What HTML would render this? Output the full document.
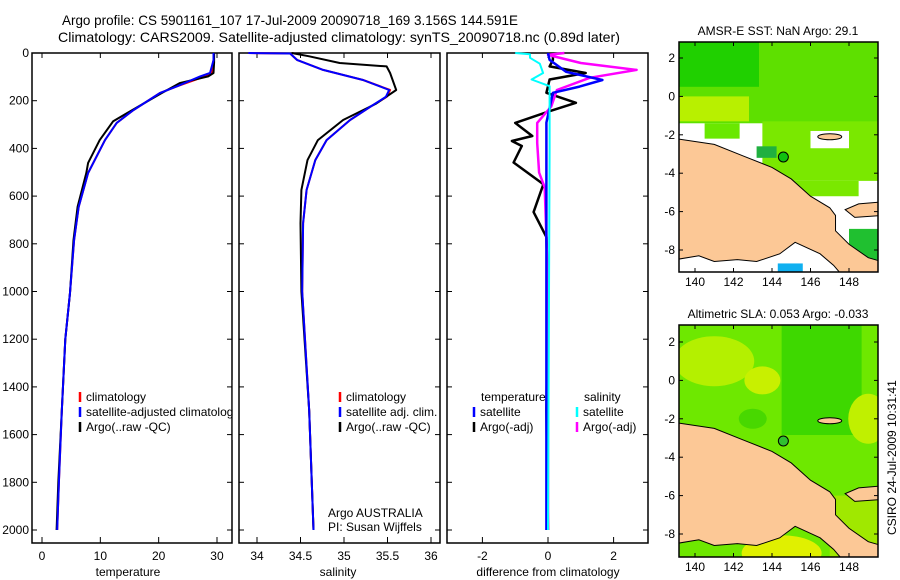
<!DOCTYPE html>
<html><head><meta charset="utf-8"><style>
body{margin:0;background:#fff}
svg{display:block;font-family:"Liberation Sans",sans-serif}
text{font-size:12px;fill:#000}
</style></head><body>
<svg id="c" width="900" height="580" viewBox="0 0 900 580">
<text x="62" y="25" style="font-size:14px" textLength="456" lengthAdjust="spacingAndGlyphs">Argo profile: CS 5901161_107 17-Jul-2009 20090718_169 3.156S 144.591E</text>
<text x="58" y="42" style="font-size:14px" textLength="562" lengthAdjust="spacingAndGlyphs">Climatology: CARS2009. Satellite-adjusted climatology: synTS_20090718.nc (0.89d later)</text>
<g id="g"></g>
</svg>
<script>
// ---- data ----
const tDepthClim=[0,30,84,98,140,168,239,293,365,503,645,784,1006,1200,1500,1800,2000];
const tClim=[29.4,29.4,29.1,27.9,23.1,20.2,15.7,12.8,10.8,7.9,6.3,5.5,4.8,4.0,3.4,2.9,2.6];
const tSat=[29.4,29.4,28.8,27.1,23.1,20.2,15.7,12.8,10.8,7.9,6.3,5.5,4.8,4.0,3.4,2.9,2.6];
const tDepthArgo=[0,40,84,98,126,168,239,286,365,461,503,645,784,1006,1200,1500,1800,2000];
const tArgo=[29.5,29.5,29.4,28.5,23.6,20.5,15.5,12.2,9.9,7.9,7.6,6.1,5.4,4.8,4.0,3.4,2.8,2.5];
const sDepthClim=[0,2,29,71,113,155,184,226,281,365,449,574,713,1000,1500,2000];
const sClim=[33.9,34.38,34.46,34.76,35.22,35.53,35.49,35.3,35.07,34.8,34.67,34.57,34.53,34.52,34.6,34.65];
const sSat=[33.9,34.38,34.46,34.76,35.22,35.52,35.48,35.3,35.07,34.8,34.67,34.57,34.53,34.52,34.6,34.65];
const sDepthArgo=[0,14,42,56,84,155,212,281,365,449,574,713,1000,1500,2000];
const sArgo=[34.4,34.6,34.95,35.49,35.53,35.6,35.37,34.99,34.7,34.58,34.51,34.5,34.51,34.6,34.65];
const dDepthTS=[0,29,79,113,141,167,292,2000];
const dTempSat=[0.0,0.05,0.55,1.66,0.96,0.15,-0.05,-0.05];
const dDepthTA=[0,29,56,84,111,167,209,244,293,348,369,390,459,550,667,772,1000,1500,2000];
const dTempArgo=[0.15,0.15,0.05,1.15,0.05,-0.05,0.85,0.05,-1.0,-0.48,-1.1,-0.8,-1.05,-0.14,-0.44,-0.05,0.0,-0.05,0.0];
const dDepthSS=[0,5,20,45,84,111,139,400,1000,2000];
const dSalSat=[-1.0,-0.55,-0.55,-0.25,-0.15,-0.5,0.05,0.05,0.03,0.0];
const dDepthSA=[0,8,42,71,104,155,224,293,377,501,564,773,1000,2000];
const dSalArgo=[0.5,0.0,1.0,2.7,1.27,0.27,0.1,-0.33,-0.33,-0.27,-0.1,-0.05,0.0,0.0];
const depthTicks=[0,200,400,600,800,1000,1200,1400,1600,1800,2000];
const tempTicks=[0,10,20,30];
const salTicks=[34,34.5,35,35.5,36];
const salLabels=["34","34.5","35","35.5","36"];
const diffTicks=[-2,0,2];
const lonTicks=[140,142,144,146,148];
const latTicks=[2,0,-2,-4,-6,-8];

const NS='http://www.w3.org/2000/svg';
const G=document.getElementById('g');
function el(tag,attrs,parent,txt){const e=document.createElementNS(NS,tag);for(const k in attrs)e.setAttribute(k,attrs[k]);if(txt!==undefined)e.textContent=txt;(parent||G).appendChild(e);return e;}
const yD=d=>53+d*0.2385;
const xT=v=>42+v*5.833;
const xS=v=>257+(v-34)*87;
const xDf=v=>548+v*32.8;

function box(x0,x1,name){
  const r=el('rect',{x:x0,y:53,width:x1-x0,height:490,fill:'none',stroke:'#000','stroke-width':1.5});
  
  
}
function line(xs,ds,fx,color,name,w){
  const p=xs.map((v,i)=>fx(v).toFixed(1)+','+yD(ds[i]).toFixed(1)).join(' ');
  const l=el('polyline',{points:p,fill:'none',stroke:color,'stroke-width':w||2,'stroke-linejoin':'round'});
  
  
}
function xticks(ticks,labels,fx,title,tx,name){
  ticks.forEach((t,i)=>{
    const x=fx(t);
    el('line',{x1:x,x2:x,y1:543,y2:537,stroke:'#000'});
    el('line',{x1:x,x2:x,y1:53,y2:58,stroke:'#000'});
    const lb=el('text',{x:x,y:560,'text-anchor':'middle'},G,labels[i]);
    
    
  });
  const tt=el('text',{x:tx,y:576,'text-anchor':'middle'},G,title);
  
  
}
function yticks(x0,x1,labels){
  depthTicks.forEach(d=>{
    const y=yD(d);
    el('line',{x1:x0,x2:x0+5,y1:y,y2:y,stroke:'#000'});
    el('line',{x1:x1,x2:x1-5,y1:y,y2:y,stroke:'#000'});
    if(labels){const lb=el('text',{x:x0-3,y:y+4,'text-anchor':'end'},G,String(d));
      
      }
  });
}
function leg(x,y,color,txt,name){
  el('line',{x1:x,x2:x,y1:y-9,y2:y+1,stroke:color,'stroke-width':2.5});
  const t=el('text',{x:x+6,y:y},G,txt);
  
  
}

box(32,232,'temperature-panel');
yticks(32,232,true);
xticks(tempTicks,tempTicks.map(String),xT,'temperature',128,'x-axis-title-temperature');
line(tClim,tDepthClim,xT,'#f00','temp-climatology');
line(tArgo,tDepthArgo,xT,'#000','temp-argo');
line(tSat,tDepthClim,xT,'#00f','temp-satellite');
leg(80,401,'#f00','climatology','legend-climatology');
leg(80,416,'#00f','satellite-adjusted climatology','legend-satellite');
leg(80,431,'#000','Argo(..raw -QC)','legend-argo');
el('rect',{x:232.8,y:380,width:6,height:60,fill:'#fff'});

box(239,440,'salinity-panel');
yticks(239,440,false);
xticks(salTicks,salLabels,xS,'salinity',338,'x-axis-title-salinity');
line(sClim,sDepthClim,xS,'#f00','sal-climatology');
line(sArgo,sDepthArgo,xS,'#000','sal-argo');
line(sSat,sDepthClim,xS,'#00f','sal-satellite');
leg(340,401,'#f00','climatology','legend-sal-climatology');
leg(340,416,'#00f','satellite adj. clim.','legend-sal-satellite');
leg(340,431,'#000','Argo(..raw -QC)','legend-sal-argo');
el('text',{x:328,y:517},G,'Argo AUSTRALIA');
el('text',{x:328,y:531},G,'PI: Susan Wijffels');

box(447,648,'difference-panel');
yticks(447,648,false);
xticks(diffTicks,diffTicks.map(String),xDf,'difference from climatology',548,'x-axis-title-difference');
line(dTempArgo,dDepthTA,xDf,'#000','diff-temp-argo',2.5);
line(dSalArgo,dDepthSA,xDf,'#f0f','diff-sal-argo',2.5);
line(dTempSat,dDepthTS,xDf,'#00f','diff-temp-satellite',2.5);
line(dSalSat,dDepthSS,xDf,'#0ff','diff-sal-satellite',2);
el('text',{x:481,y:401},G,'temperature');
el('text',{x:584,y:401},G,'salinity');
leg(474,416,'#00f','satellite','legend-diff-temp-sat');
leg(474,431,'#000','Argo(-adj)','legend-diff-temp-argo');
leg(577,416,'#0ff','satellite','legend-diff-sal-sat');
leg(577,431,'#f0f','Argo(-adj)','legend-diff-sal-argo');

function map(y0,y1,lat2y,sla,name,title){
  const x0=679,x1=878;
  const lx=l=>695+(l-140)*19.25;
  const ly=l=>lat2y+(2-l)*19.2;
  const g=el('g',{});
  
  
  const cid='clip'+y0;
  const cp=el('clipPath',{id:cid},g);el('rect',{x:x0,y:y0,width:x1-x0,height:y1-y0},cp);
  const inner=el('g',{'clip-path':'url(#'+cid+')'},g);
  el('rect',{x:x0,y:y0,width:x1-x0,height:y1-y0,fill:'#fff'},inner);
  if(sla){
    el('rect',{x:x0,y:y0,width:x1-x0,height:y1-y0,fill:'#6ee800'},inner);
    el('rect',{x:lx(144.5),y:y0,width:80,height:110,fill:'#3ed800'},inner);
    el('ellipse',{cx:lx(141),cy:ly(1),rx:40,ry:25,fill:'#b4f000'},inner);
    el('ellipse',{cx:lx(143.5),cy:ly(0),rx:18,ry:14,fill:'#c8f000'},inner);
    el('ellipse',{cx:lx(149),cy:ly(-2),rx:20,ry:25,fill:'#c0f000'},inner);
    el('ellipse',{cx:lx(143),cy:ly(-2),rx:14,ry:10,fill:'#48d800'},inner);
    el('ellipse',{cx:lx(144.5),cy:ly(-9),rx:40,ry:18,fill:'#e0f000'},inner);
    el('rect',{x:lx(147),y:ly(-6),width:60,height:80,fill:'#a0e800'},inner);
  } else {
    el('rect',{x:x0,y:y0,width:x1-x0,height:ly(-1.4)-y0,fill:'#5ee000'},inner);
    el('rect',{x:x0,y:y0,width:80,height:ly(0.5)-y0,fill:'#20d000'},inner);
    el('rect',{x:x0,y:ly(0),width:70,height:ly(-1.3)-ly(0),fill:'#b8f000'},inner);
    el('rect',{x:lx(140.5),y:ly(-1.4),width:35,height:ly(-2.2)-ly(-1.4),fill:'#6ae800'},inner);
    el('rect',{x:lx(143.5),y:ly(-1.3),width:lx(149.6)-lx(143.5),height:ly(-4.4)-ly(-1.3),fill:'#7ae800'},inner);
    el('rect',{x:lx(145),y:ly(-4.4),width:lx(148.5)-lx(145),height:ly(-5.2)-ly(-4.4),fill:'#7ae800'},inner);
    el('rect',{x:lx(143.2),y:ly(-2.6),width:20,height:ly(-3.2)-ly(-2.6),fill:'#20b040'},inner);
    el('rect',{x:lx(146),y:ly(-1.8),width:lx(148)-lx(146),height:ly(-2.7)-ly(-1.8),fill:'#fff'},inner);
    el('rect',{x:lx(148),y:ly(-6.9),width:lx(149.6)-lx(148),height:ly(-8.5)-ly(-6.9),fill:'#20c030'},inner);
    el('rect',{x:lx(144.3),y:ly(-8.7),width:25,height:12,fill:'#10b0f0'},inner);
  }
  const land=[[139,-2.2],[141,-2.5],[142.5,-3.1],[144,-3.7],[145,-4.3],[146,-5.2],[147,-5.8],[147.3,-6.2],[147.3,-7],[148,-7.7],[149,-8.4],[149.7,-8.6],[149.7,-9.5],[147.8,-9.5],[147.2,-8.8],[146.5,-8.2],[145.2,-7.6],[144.4,-8.2],[143.2,-8.6],[142.2,-8.5],[141,-8.6],[140.2,-8.3],[139,-8.5]];
  el('polygon',{points:land.map(p=>lx(p[0])+','+ly(p[1])).join(' '),fill:'#fcc896',stroke:'#000','stroke-width':1},inner);
  el('polygon',{points:[[149.7,-5.5],[148.5,-5.6],[147.8,-5.9],[148.3,-6.3],[149.7,-6.2]].map(p=>lx(p[0])+','+ly(p[1])).join(' '),fill:'#fcc896',stroke:'#000'},inner);
  el('ellipse',{cx:lx(147),cy:ly(-2.1),rx:12,ry:3,fill:'#fcc896',stroke:'#000'},inner);
  const c=el('circle',{cx:lx(144.59),cy:ly(-3.156),r:5,fill:sla?'#30c030':'#10c010',stroke:'#000'},g);
  
  
  el('rect',{x:x0,y:y0,width:x1-x0,height:y1-y0,fill:'none',stroke:'#000','stroke-width':1.5},g);
  lonTicks.forEach(l=>{const x=lx(l);el('line',{x1:x,x2:x,y1:y1,y2:y1-4,stroke:'#000'},g);el('line',{x1:x,x2:x,y1:y0,y2:y0+4,stroke:'#000'},g);
    el('text',{x:x,y:y1+14,'text-anchor':'middle'},g,String(l));});
  latTicks.forEach(l=>{const y=ly(l);el('line',{x1:x0,x2:x0+4,y1:y,y2:y,stroke:'#000'},g);el('line',{x1:x1,x2:x1-4,y1:y,y2:y,stroke:'#000'},g);
    el('text',{x:x0-4,y:y+4,'text-anchor':'end'},g,String(l));});
  const t=el('text',{x:778,y:y0-7,'text-anchor':'middle','font-size':'11'},g,title);
  
  
}
map(42,272,58,false,'sst-map','AMSR-E SST: NaN Argo: 29.1');
map(325,557,342,true,'sla-map','Altimetric SLA: 0.053 Argo: -0.033');
const cs=el('text',{x:0,y:0,transform:'translate(896,535) rotate(-90)'},G,'CSIRO 24-Jul-2009 10:31:41');


</script>
</body></html>
